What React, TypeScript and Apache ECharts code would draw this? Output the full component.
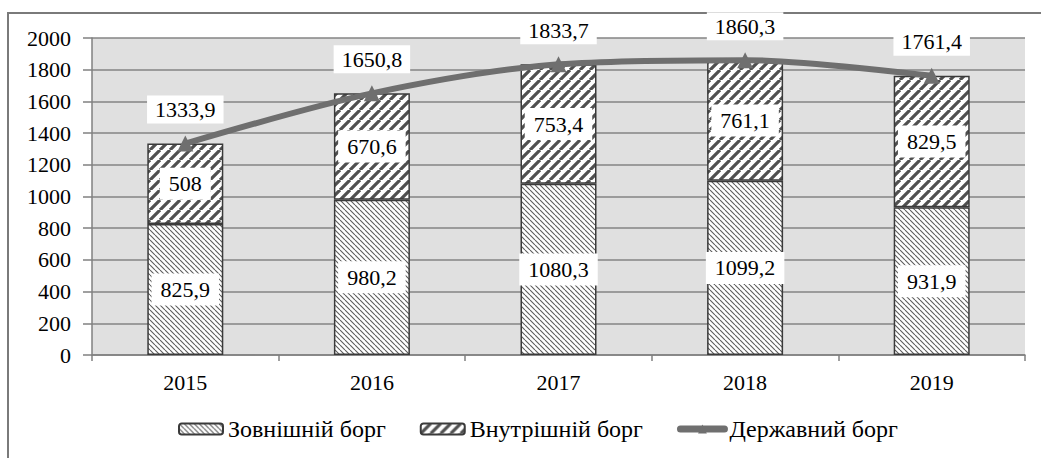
import React, { useEffect, useRef } from "react";
import * as echarts from "echarts";

const years = ["2015", "2016", "2017", "2018", "2019"];
const externalDebt = [825.9, 980.2, 1080.3, 1099.2, 931.9];
const internalDebt = [508, 670.6, 753.4, 761.1, 829.5];
const stateDebt = [1333.9, 1650.8, 1833.7, 1860.3, 1761.4];
const seriesNames = ["Зовнішній борг", "Внутрішній борг", "Державний борг"];

const FONT = "Liberation Serif";

function hatch(size: number, lw: number, color: string, dir: "/" | "\\") {
  const c = document.createElement("canvas");
  c.width = size;
  c.height = size;
  const ctx = c.getContext("2d")!;
  ctx.fillStyle = "#ffffff";
  ctx.fillRect(0, 0, size, size);
  ctx.strokeStyle = color;
  ctx.lineWidth = lw;
  ctx.beginPath();
  for (const k of [-size, 0, size]) {
    if (dir === "/") {
      ctx.moveTo(k, size);
      ctx.lineTo(k + size, 0);
    } else {
      ctx.moveTo(k, 0);
      ctx.lineTo(k + size, size);
    }
  }
  ctx.stroke();
  return c;
}

const fmt = (v: number) => String(v).replace(".", ",");

export default function App() {
  const ref = useRef<HTMLDivElement>(null);
  useEffect(() => {
    if (!ref.current) return;
    const chart = echarts.init(ref.current, undefined, { renderer: "svg" });
    const extPattern = { image: hatch(5, 1.1, "#5e5e5e", "\\"), repeat: "repeat" };
    const intPattern = { image: hatch(10, 3.2, "#505050", "/"), repeat: "repeat" };
    const barLabel = {
      show: true,
      position: "inside",
      backgroundColor: "#ffffff",
      padding: [5, 9],
      color: "#000",
      fontSize: 22,
      fontFamily: FONT,
      formatter: (p: any) => fmt(p.value),
    };
    chart.setOption({
      animation: false,
      backgroundColor: "#ffffff",
      textStyle: { fontFamily: FONT },
      graphic: [
        {
          type: "rect",
          shape: { x: 8, y: 13, width: 1100, height: 600 },
          style: { fill: "none", stroke: "#7a7a7a", lineWidth: 2 },
          silent: true,
          z: -10,
        },
      ],
      grid: {
        left: 92,
        right: 16,
        top: 38,
        bottom: 103,
        show: true,
        backgroundColor: "#e0e0e0",
        borderWidth: 0,
      },
      legend: {
        bottom: 12,
        left: 173,
        itemWidth: 44,
        itemHeight: 11,
        itemGap: 34,
        textStyle: { fontSize: 24, fontFamily: FONT, color: "#000" },
        data: [
          { name: seriesNames[0] },
          { name: seriesNames[1] },
          {
            name: seriesNames[2],
            lineStyle: { width: 7, color: "#6f6f6f", cap: "round" },
            itemStyle: { color: "#6f6f6f" },
          },
        ],
      },
      xAxis: {
        type: "category",
        data: years,
        axisLine: { lineStyle: { color: "#808080", width: 1.5 } },
        axisTick: { show: true, length: 6, interval: 0, lineStyle: { color: "#808080", width: 1.5 } },
        axisLabel: { fontSize: 22, fontFamily: FONT, color: "#000", margin: 16 },
      },
      yAxis: {
        type: "value",
        min: 0,
        max: 2000,
        interval: 200,
        axisLine: { show: true, lineStyle: { color: "#808080", width: 1.5 } },
        axisTick: { show: true, length: 9, lineStyle: { color: "#808080", width: 1.5 } },
        axisLabel: {
          fontSize: 22,
          fontFamily: FONT,
          color: "#000",
          margin: 21,
          formatter: (v: number) => String(v),
        },
        splitLine: { lineStyle: { color: "#858585", width: 1.5 } },
      },
      series: [
        {
          name: seriesNames[0],
          type: "bar",
          stack: "debt",
          barWidth: 76,
          data: externalDebt,
          itemStyle: { color: extPattern, borderColor: "#3a3a3a", borderWidth: 1.5 },
          label: barLabel,
        },
        {
          name: seriesNames[1],
          type: "bar",
          stack: "debt",
          barWidth: 76,
          data: internalDebt,
          itemStyle: { color: intPattern, borderColor: "#3a3a3a", borderWidth: 1.5 },
          label: barLabel,
        },
        {
          name: seriesNames[2],
          type: "line",
          data: stateDebt,
          smooth: 0.3,
          symbol: "triangle",
          symbolSize: 16,
          z: 5,
          lineStyle: { color: "#6f6f6f", width: 6, cap: "round" },
          itemStyle: { color: "#6f6f6f" },
          labelLayout: { hideOverlap: false },
          label: {
            show: true,
            position: "top",
            distance: 12,
            backgroundColor: "#ffffff",
            padding: [3, 8],
            color: "#000",
            fontSize: 22,
            fontFamily: FONT,
            formatter: (p: any) => fmt(p.value),
          },
        },
      ],
    });
    return () => chart.dispose();
  }, []);
  return (
    <div
      ref={ref}
      style={{ position: "fixed", left: 0, top: 0, width: 1041, height: 458 }}
    />
  );
}
